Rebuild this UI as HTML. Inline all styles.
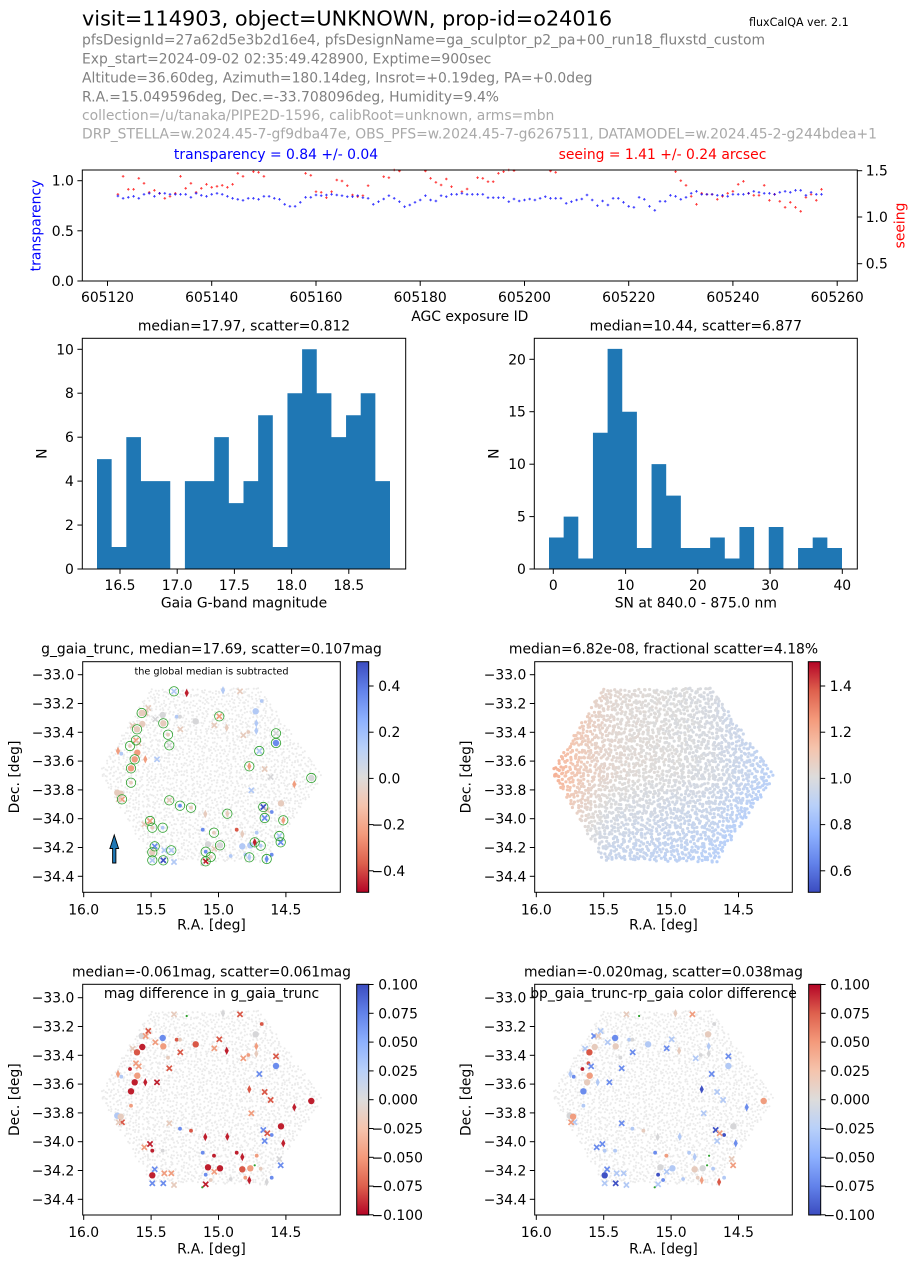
<!DOCTYPE html>
<html><head><meta charset="utf-8">
<style>
html,body{margin:0;padding:0;background:#fff;}
svg{display:block;}
text{font-family:"DejaVu Sans","Liberation Sans",sans-serif;font-size:13.9px;fill:#000;}
.g1 text{fill:#808080}
.g2 text{fill:#a9a9a9}
.e{text-anchor:end}
.m{text-anchor:middle}
</style></head><body>
<svg id="s" width="918" height="1268" viewBox="0 0 918 1268" xmlns="http://www.w3.org/2000/svg">
<defs>
<linearGradient id="cwUp" x1="0" y1="0" x2="0" y2="1">
<stop offset="0" stop-color="rgb(180,4,38)"/><stop offset="0.125" stop-color="rgb(222,96,77)"/><stop offset="0.25" stop-color="rgb(244,154,123)"/><stop offset="0.375" stop-color="rgb(245,196,173)"/><stop offset="0.5" stop-color="rgb(221,220,219)"/><stop offset="0.625" stop-color="rgb(184,208,249)"/><stop offset="0.75" stop-color="rgb(141,176,254)"/><stop offset="0.875" stop-color="rgb(98,130,234)"/><stop offset="1" stop-color="rgb(59,76,192)"/>
</linearGradient>
<linearGradient id="cwDn" x1="0" y1="0" x2="0" y2="1">
<stop offset="0" stop-color="rgb(59,76,192)"/><stop offset="0.125" stop-color="rgb(98,130,234)"/><stop offset="0.25" stop-color="rgb(141,176,254)"/><stop offset="0.375" stop-color="rgb(184,208,249)"/><stop offset="0.5" stop-color="rgb(221,220,219)"/><stop offset="0.625" stop-color="rgb(245,196,173)"/><stop offset="0.75" stop-color="rgb(244,154,123)"/><stop offset="0.875" stop-color="rgb(222,96,77)"/><stop offset="1" stop-color="rgb(180,4,38)"/>
</linearGradient>
</defs>
<rect width="918" height="1268" fill="#fff"/>

<!-- header -->
<text x="82" y="25.5" style="font-size:20.8px">visit=114903, object=UNKNOWN, prop-id=o24016</text>
<text x="749" y="26" style="font-size:11.1px">fluxCalQA ver. 2.1</text>
<g class="g1">
<text x="82" y="44.5">pfsDesignId=27a62d5e3b2d16e4, pfsDesignName=ga_sculptor_p2_pa+00_run18_fluxstd_custom</text>
<text x="82" y="63.5">Exp_start=2024-09-02 02:35:49.428900, Exptime=900sec</text>
<text x="82" y="82.5">Altitude=36.60deg, Azimuth=180.14deg, Insrot=+0.19deg, PA=+0.0deg</text>
<text x="82" y="101.3">R.A.=15.049596deg, Dec.=-33.708096deg, Humidity=9.4%</text>
</g>
<g class="g2">
<text x="82" y="119.9">collection=/u/tanaka/PIPE2D-1596, calibRoot=unknown, arms=mbn</text>
<text x="82" y="138.7">DRP_STELLA=w.2024.45-7-gf9dba47e, OBS_PFS=w.2024.45-7-g6267511, DATAMODEL=w.2024.45-2-g244bdea+1</text>
</g>
<text x="276" y="159" class="m" style="fill:#0000ff">transparency = 0.84 +/- 0.04</text>
<text x="662.5" y="159" class="m" style="fill:#ff0000">seeing = 1.41 +/- 0.24 arcsec</text>

<!-- transparency plot -->
<g id="tpts"></g>
<rect x="82.3" y="170" width="775" height="111" fill="none" stroke="#000" stroke-width="1"/>
<g stroke="#000" stroke-width="1">
<line x1="77.4" y1="281" x2="82.3" y2="281"/><line x1="77.4" y1="230.8" x2="82.3" y2="230.8"/><line x1="77.4" y1="180.7" x2="82.3" y2="180.7"/>
<line x1="857.3" y1="170.7" x2="862.2" y2="170.7"/><line x1="857.3" y1="217" x2="862.2" y2="217"/><line x1="857.3" y1="263.7" x2="862.2" y2="263.7"/>
<line x1="107.5" y1="281" x2="107.5" y2="285.9"/><line x1="211.7" y1="281" x2="211.7" y2="285.9"/><line x1="316" y1="281" x2="316" y2="285.9"/><line x1="420.2" y1="281" x2="420.2" y2="285.9"/><line x1="524.5" y1="281" x2="524.5" y2="285.9"/><line x1="628.7" y1="281" x2="628.7" y2="285.9"/><line x1="732.9" y1="281" x2="732.9" y2="285.9"/><line x1="837.2" y1="281" x2="837.2" y2="285.9"/>
</g>
<text x="73.9" y="286" class="e">0.0</text><text x="73.9" y="235.8" class="e">0.5</text><text x="73.9" y="185.7" class="e">1.0</text>
<text x="865.7" y="175.7">1.5</text><text x="865.7" y="222">1.0</text><text x="865.7" y="268.7">0.5</text>
<text x="107.5" y="302" class="m">605120</text><text x="211.7" y="302" class="m">605140</text><text x="316" y="302" class="m">605160</text><text x="420.2" y="302" class="m">605180</text><text x="524.5" y="302" class="m">605200</text><text x="628.7" y="302" class="m">605220</text><text x="732.9" y="302" class="m">605240</text><text x="837.2" y="302" class="m">605260</text>
<text x="469.8" y="321" class="m">AGC exposure ID</text>
<text transform="translate(40.3,225.5) rotate(-90)" class="m" style="fill:#0000ff">transparency</text>
<text transform="translate(904.3,225.5) rotate(-90)" class="m" style="fill:#ff0000">seeing</text>

<!-- histogram 1 -->
<path fill="#1f77b4" d="M97,569 V459.15 H111.65 V547.03 H126.3 V437.18 H140.95 V481.12 H170.25 V569 H184.9 V481.12 H214.2 V437.18 H228.85 V503.09 H243.5 V481.12 H258.15 V415.21 H272.8 V547.03 H287.45 V393.24 H302.1 V349.3 H316.75 V393.24 H331.4 V437.18 H346.05 V415.21 H360.7 V393.24 H375.35 V481.12 H390 V569 Z"/>
<rect x="82.3" y="338.3" width="323.4" height="230.7" fill="none" stroke="#000" stroke-width="1"/>
<g stroke="#000" stroke-width="1">
<line x1="77.4" y1="569" x2="82.3" y2="569"/><line x1="77.4" y1="525.06" x2="82.3" y2="525.06"/><line x1="77.4" y1="481.1" x2="82.3" y2="481.1"/><line x1="77.4" y1="437.2" x2="82.3" y2="437.2"/><line x1="77.4" y1="393.2" x2="82.3" y2="393.2"/><line x1="77.4" y1="349.3" x2="82.3" y2="349.3"/>
<line x1="120" y1="569" x2="120" y2="573.9"/><line x1="177.2" y1="569" x2="177.2" y2="573.9"/><line x1="234.4" y1="569" x2="234.4" y2="573.9"/><line x1="291.6" y1="569" x2="291.6" y2="573.9"/><line x1="348.8" y1="569" x2="348.8" y2="573.9"/>
</g>
<text x="73.9" y="574" class="e">0</text><text x="73.9" y="530.06" class="e">2</text><text x="73.9" y="486.1" class="e">4</text><text x="73.9" y="442.2" class="e">6</text><text x="73.9" y="398.2" class="e">8</text><text x="73.9" y="354.3" class="e">10</text>
<text x="120" y="590" class="m">16.5</text><text x="177.2" y="590" class="m">17.0</text><text x="234.4" y="590" class="m">17.5</text><text x="291.6" y="590" class="m">18.0</text><text x="348.8" y="590" class="m">18.5</text>
<text x="244" y="330.3" class="m">median=17.97, scatter=0.812</text>
<text x="244" y="607.5" class="m">Gaia G-band magnitude</text>
<text transform="translate(46.7,453.65) rotate(-90)" class="m">N</text>

<!-- histogram 2 -->
<path fill="#1f77b4" d="M549,569 V537.545 H563.65 V516.575 H578.3 V558.515 H592.95 V432.695 H607.6 V348.815 H622.25 V411.725 H636.9 V548.03 H651.55 V464.15 H666.2 V495.605 H680.85 V548.03 H710.15 V537.545 H724.8 V558.515 H739.45 V527.06 H754.1 V569 H768.75 V527.06 H783.4 V569 H798.05 V548.03 H812.7 V537.545 H827.35 V548.03 H842 V569 Z"/>
<rect x="534.3" y="338.3" width="323" height="230.7" fill="none" stroke="#000" stroke-width="1"/>
<g stroke="#000" stroke-width="1">
<line x1="529.4" y1="569" x2="534.3" y2="569"/><line x1="529.4" y1="516.6" x2="534.3" y2="516.6"/><line x1="529.4" y1="464.2" x2="534.3" y2="464.2"/><line x1="529.4" y1="411.7" x2="534.3" y2="411.7"/><line x1="529.4" y1="359.3" x2="534.3" y2="359.3"/>
<line x1="553.3" y1="569" x2="553.3" y2="573.9"/><line x1="625.6" y1="569" x2="625.6" y2="573.9"/><line x1="697.8" y1="569" x2="697.8" y2="573.9"/><line x1="770.1" y1="569" x2="770.1" y2="573.9"/><line x1="842.3" y1="569" x2="842.3" y2="573.9"/>
</g>
<text x="525.9" y="574" class="e">0</text><text x="525.9" y="521.6" class="e">5</text><text x="525.9" y="469.2" class="e">10</text><text x="525.9" y="416.7" class="e">15</text><text x="525.9" y="364.3" class="e">20</text>
<text x="553.3" y="590" class="m">0</text><text x="625.6" y="590" class="m">10</text><text x="697.8" y="590" class="m">20</text><text x="770.1" y="590" class="m">30</text><text x="842.3" y="590" class="m">40</text>
<text x="695.8" y="330.3" class="m">median=10.44, scatter=6.877</text>
<text x="695.8" y="607.5" class="m">SN at 840.0 - 875.0 nm</text>
<text transform="translate(498.3,453.65) rotate(-90)" class="m">N</text>

<!-- scatter groups -->
<g id="p3"></g><g id="p4"></g><g id="p5"></g><g id="p6"></g>

<!-- panel 3 frame -->
<path d="M112.6,863 L115.9,863 L115.9,848.5 L118.6,848.5 L114.25,835 L109.9,848.5 L112.6,848.5 Z" fill="#1f77b4" stroke="#000" stroke-width="0.9"/>
<rect x="82.7" y="661.7" width="257.6" height="230.6" fill="none" stroke="#000" stroke-width="1"/>
<text x="211.5" y="674.5" class="m" style="font-size:9.7px">the global median is subtracted</text>
<text x="211.5" y="653.7" class="m">g_gaia_trunc, median=17.69, scatter=0.107mag</text>
<rect x="356.7" y="661.7" width="12" height="230.6" fill="url(#cwDn)" stroke="#000" stroke-width="1"/>
<g stroke="#000" stroke-width="1">
<line x1="77.8" y1="674.7" x2="82.7" y2="674.7"/><line x1="77.8" y1="703.5" x2="82.7" y2="703.5"/><line x1="77.8" y1="732.3" x2="82.7" y2="732.3"/><line x1="77.8" y1="761.1" x2="82.7" y2="761.1"/><line x1="77.8" y1="789.9" x2="82.7" y2="789.9"/><line x1="77.8" y1="818.7" x2="82.7" y2="818.7"/><line x1="77.8" y1="847.5" x2="82.7" y2="847.5"/><line x1="77.8" y1="876.3" x2="82.7" y2="876.3"/>
<line x1="83.7" y1="892.3" x2="83.7" y2="897.2"/><line x1="151.1" y1="892.3" x2="151.1" y2="897.2"/><line x1="218.5" y1="892.3" x2="218.5" y2="897.2"/><line x1="285.9" y1="892.3" x2="285.9" y2="897.2"/>
<line x1="368.7" y1="686" x2="373.6" y2="686"/><line x1="368.7" y1="732.2" x2="373.6" y2="732.2"/><line x1="368.7" y1="778.4" x2="373.6" y2="778.4"/><line x1="368.7" y1="824.6" x2="373.6" y2="824.6"/><line x1="368.7" y1="870.8" x2="373.6" y2="870.8"/>
</g>
<text x="74.3" y="679.7" class="e">−33.0</text><text x="74.3" y="708.5" class="e">−33.2</text><text x="74.3" y="737.3" class="e">−33.4</text><text x="74.3" y="766.1" class="e">−33.6</text><text x="74.3" y="794.9" class="e">−33.8</text><text x="74.3" y="823.7" class="e">−34.0</text><text x="74.3" y="852.5" class="e">−34.2</text><text x="74.3" y="881.3" class="e">−34.4</text>
<text x="83.7" y="914.3" class="m">16.0</text><text x="151.1" y="914.3" class="m">15.5</text><text x="218.5" y="914.3" class="m">15.0</text><text x="285.9" y="914.3" class="m">14.5</text>
<text x="211.5" y="929.7" class="m">R.A. [deg]</text>
<text transform="translate(19,777) rotate(-90)" class="m">Dec. [deg]</text>
<text x="378.2" y="691">0.4</text><text x="378.2" y="737.2">0.2</text><text x="378.2" y="783.4">0.0</text><text x="371.5" y="829.6">−0.2</text><text x="371.5" y="875.8">−0.4</text>

<!-- panel 4 frame -->
<rect x="534.7" y="661.7" width="257.6" height="230.6" fill="none" stroke="#000" stroke-width="1"/>
<text x="663.5" y="653.7" class="m">median=6.82e-08, fractional scatter=4.18%</text>
<rect x="808.3" y="661.7" width="12" height="230.6" fill="url(#cwUp)" stroke="#000" stroke-width="1"/>
<g stroke="#000" stroke-width="1">
<line x1="529.8" y1="674.7" x2="534.7" y2="674.7"/><line x1="529.8" y1="703.5" x2="534.7" y2="703.5"/><line x1="529.8" y1="732.3" x2="534.7" y2="732.3"/><line x1="529.8" y1="761.1" x2="534.7" y2="761.1"/><line x1="529.8" y1="789.9" x2="534.7" y2="789.9"/><line x1="529.8" y1="818.7" x2="534.7" y2="818.7"/><line x1="529.8" y1="847.5" x2="534.7" y2="847.5"/><line x1="529.8" y1="876.3" x2="534.7" y2="876.3"/>
<line x1="536.3" y1="892.3" x2="536.3" y2="897.2"/><line x1="603.7" y1="892.3" x2="603.7" y2="897.2"/><line x1="671.1" y1="892.3" x2="671.1" y2="897.2"/><line x1="738.5" y1="892.3" x2="738.5" y2="897.2"/>
<line x1="820.3" y1="686" x2="825.2" y2="686"/><line x1="820.3" y1="732.2" x2="825.2" y2="732.2"/><line x1="820.3" y1="778.4" x2="825.2" y2="778.4"/><line x1="820.3" y1="824.6" x2="825.2" y2="824.6"/><line x1="820.3" y1="870.8" x2="825.2" y2="870.8"/>
</g>
<text x="526.3" y="679.7" class="e">−33.0</text><text x="526.3" y="708.5" class="e">−33.2</text><text x="526.3" y="737.3" class="e">−33.4</text><text x="526.3" y="766.1" class="e">−33.6</text><text x="526.3" y="794.9" class="e">−33.8</text><text x="526.3" y="823.7" class="e">−34.0</text><text x="526.3" y="852.5" class="e">−34.2</text><text x="526.3" y="881.3" class="e">−34.4</text>
<text x="536.3" y="914.3" class="m">16.0</text><text x="603.7" y="914.3" class="m">15.5</text><text x="671.1" y="914.3" class="m">15.0</text><text x="738.5" y="914.3" class="m">14.5</text>
<text x="663.5" y="929.7" class="m">R.A. [deg]</text>
<text transform="translate(470.5,777) rotate(-90)" class="m">Dec. [deg]</text>
<text x="829.8" y="691">1.4</text><text x="829.8" y="737.2">1.2</text><text x="829.8" y="783.4">1.0</text><text x="829.8" y="829.6">0.8</text><text x="829.8" y="875.8">0.6</text>

<!-- panel 5 frame -->
<rect x="82.7" y="984.3" width="257.6" height="230.7" fill="none" stroke="#000" stroke-width="1"/>
<text x="211.5" y="976.3" class="m">median=-0.061mag, scatter=0.061mag</text>
<text x="211.5" y="998" class="m">mag difference in g_gaia_trunc</text>
<rect x="356.7" y="984.3" width="12" height="230.7" fill="url(#cwDn)" stroke="#000" stroke-width="1"/>
<g stroke="#000" stroke-width="1">
<line x1="77.8" y1="997.7" x2="82.7" y2="997.7"/><line x1="77.8" y1="1026.5" x2="82.7" y2="1026.5"/><line x1="77.8" y1="1055.3" x2="82.7" y2="1055.3"/><line x1="77.8" y1="1084.1" x2="82.7" y2="1084.1"/><line x1="77.8" y1="1112.9" x2="82.7" y2="1112.9"/><line x1="77.8" y1="1141.7" x2="82.7" y2="1141.7"/><line x1="77.8" y1="1170.5" x2="82.7" y2="1170.5"/><line x1="77.8" y1="1199.3" x2="82.7" y2="1199.3"/>
<line x1="83.7" y1="1215" x2="83.7" y2="1219.9"/><line x1="151.1" y1="1215" x2="151.1" y2="1219.9"/><line x1="218.5" y1="1215" x2="218.5" y2="1219.9"/><line x1="285.9" y1="1215" x2="285.9" y2="1219.9"/>
<line x1="368.7" y1="984.5" x2="373.6" y2="984.5"/><line x1="368.7" y1="1013.3" x2="373.6" y2="1013.3"/><line x1="368.7" y1="1042.1" x2="373.6" y2="1042.1"/><line x1="368.7" y1="1070.9" x2="373.6" y2="1070.9"/><line x1="368.7" y1="1099.7" x2="373.6" y2="1099.7"/><line x1="368.7" y1="1128.5" x2="373.6" y2="1128.5"/><line x1="368.7" y1="1157.3" x2="373.6" y2="1157.3"/><line x1="368.7" y1="1186.1" x2="373.6" y2="1186.1"/><line x1="368.7" y1="1214.8" x2="373.6" y2="1214.8"/>
</g>
<text x="74.3" y="1002.7" class="e">−33.0</text><text x="74.3" y="1031.5" class="e">−33.2</text><text x="74.3" y="1060.3" class="e">−33.4</text><text x="74.3" y="1089.1" class="e">−33.6</text><text x="74.3" y="1117.9" class="e">−33.8</text><text x="74.3" y="1146.7" class="e">−34.0</text><text x="74.3" y="1175.5" class="e">−34.2</text><text x="74.3" y="1204.3" class="e">−34.4</text>
<text x="83.7" y="1237" class="m">16.0</text><text x="151.1" y="1237" class="m">15.5</text><text x="218.5" y="1237" class="m">15.0</text><text x="285.9" y="1237" class="m">14.5</text>
<text x="211.5" y="1253.7" class="m">R.A. [deg]</text>
<text transform="translate(19,1099.65) rotate(-90)" class="m">Dec. [deg]</text>
<text x="378.2" y="989.5">0.100</text><text x="378.2" y="1018.3">0.075</text><text x="378.2" y="1047.1">0.050</text><text x="378.2" y="1075.9">0.025</text><text x="378.2" y="1104.7">0.000</text><text x="371.5" y="1133.5">−0.025</text><text x="371.5" y="1162.3">−0.050</text><text x="371.5" y="1191.1">−0.075</text><text x="371.5" y="1219.8">−0.100</text>

<!-- panel 6 frame -->
<rect x="534.7" y="984.3" width="257.6" height="230.7" fill="none" stroke="#000" stroke-width="1"/>
<text x="663.5" y="976.3" class="m">median=-0.020mag, scatter=0.038mag</text>
<text x="663.5" y="998" class="m">bp_gaia_trunc-rp_gaia color difference</text>
<rect x="808.7" y="984.3" width="12" height="230.7" fill="url(#cwUp)" stroke="#000" stroke-width="1"/>
<g stroke="#000" stroke-width="1">
<line x1="529.8" y1="997.7" x2="534.7" y2="997.7"/><line x1="529.8" y1="1026.5" x2="534.7" y2="1026.5"/><line x1="529.8" y1="1055.3" x2="534.7" y2="1055.3"/><line x1="529.8" y1="1084.1" x2="534.7" y2="1084.1"/><line x1="529.8" y1="1112.9" x2="534.7" y2="1112.9"/><line x1="529.8" y1="1141.7" x2="534.7" y2="1141.7"/><line x1="529.8" y1="1170.5" x2="534.7" y2="1170.5"/><line x1="529.8" y1="1199.3" x2="534.7" y2="1199.3"/>
<line x1="536.3" y1="1215" x2="536.3" y2="1219.9"/><line x1="603.7" y1="1215" x2="603.7" y2="1219.9"/><line x1="671.1" y1="1215" x2="671.1" y2="1219.9"/><line x1="738.5" y1="1215" x2="738.5" y2="1219.9"/>
<line x1="820.7" y1="984.5" x2="825.6" y2="984.5"/><line x1="820.7" y1="1013.3" x2="825.6" y2="1013.3"/><line x1="820.7" y1="1042.1" x2="825.6" y2="1042.1"/><line x1="820.7" y1="1070.9" x2="825.6" y2="1070.9"/><line x1="820.7" y1="1099.7" x2="825.6" y2="1099.7"/><line x1="820.7" y1="1128.5" x2="825.6" y2="1128.5"/><line x1="820.7" y1="1157.3" x2="825.6" y2="1157.3"/><line x1="820.7" y1="1186.1" x2="825.6" y2="1186.1"/><line x1="820.7" y1="1214.8" x2="825.6" y2="1214.8"/>
</g>
<text x="526.3" y="1002.7" class="e">−33.0</text><text x="526.3" y="1031.5" class="e">−33.2</text><text x="526.3" y="1060.3" class="e">−33.4</text><text x="526.3" y="1089.1" class="e">−33.6</text><text x="526.3" y="1117.9" class="e">−33.8</text><text x="526.3" y="1146.7" class="e">−34.0</text><text x="526.3" y="1175.5" class="e">−34.2</text><text x="526.3" y="1204.3" class="e">−34.4</text>
<text x="536.3" y="1237" class="m">16.0</text><text x="603.7" y="1237" class="m">15.5</text><text x="671.1" y="1237" class="m">15.0</text><text x="738.5" y="1237" class="m">14.5</text>
<text x="663.5" y="1253.7" class="m">R.A. [deg]</text>
<text transform="translate(470.5,1099.65) rotate(-90)" class="m">Dec. [deg]</text>
<text x="830.2" y="989.5">0.100</text><text x="830.2" y="1018.3">0.075</text><text x="830.2" y="1047.1">0.050</text><text x="830.2" y="1075.9">0.025</text><text x="830.2" y="1104.7">0.000</text><text x="823.5" y="1133.5">−0.025</text><text x="823.5" y="1162.3">−0.050</text><text x="823.5" y="1191.1">−0.075</text><text x="823.5" y="1219.8">−0.100</text>
</svg>
<script>
(function(){
function mul(a){return function(){a|=0;a=a+0x6D2B79F5|0;var t=Math.imul(a^a>>>15,1|a);t=t+Math.imul(t^t>>>7,61|t)^t;return((t^t>>>14)>>>0)/4294967296;};}
var A=[[59,76,192],[98,130,234],[141,176,254],[184,208,249],[221,220,219],[245,196,173],[244,154,123],[222,96,77],[180,4,38]];
function cw(t){t=Math.max(0,Math.min(1,t));var f=t*8,i=Math.min(7,Math.floor(f)),u=f-i;var c=A[i].map(function(v,k){return Math.round(v+(A[i+1][k]-v)*u);});return 'rgb('+c.join(',')+')';}
function f(v){return v.toFixed(1);}
/* transparency plot */
var tp='';
function xid(id){return 107.5+(id-605120)*5.212;}
function plus(x,y,c){tp+='<path d="M'+f(x-1.3)+','+f(y)+'h2.6M'+f(x)+','+f(y-1.3)+'v2.6" stroke="'+c+'" stroke-width="0.9" stroke-opacity="0.8"/>';}
var b1=[108,115,112,109,115,103,100,109,100,100,103,103,103,103,112,100,106,109,103,100,103,109,115,118,121,115,115,118,109,109,115,118,133,139,139,127,112,112];
var b2=[150,152,150,148,150,152,155,155,152,158,160,178,170,162,152,160,170,185,180,172,165,152,165,168,152,155,148,148,145,148,148,148,148,158,158,158,158,170,162,168,165,162,165,160,155,160,160,160,175,170,165,162,150,165,182,168,180,160];
var b3=[115,127,139,142,112,118,139,151,124,124,106,109,118,112,100,94,103,103,103,106,106,109,103,103,103,100,94,97,100,100,103,97,94,97,91,91,106,97,103,103];
var r1={122:103,123:49,124:88,125:88,126:55,127:70,128:97,129:91,130:100,131:115,132:109,133:100,134:49,135:85,136:70,137:97,138:85,139:73,140:82,141:79,142:76,143:82,144:73,145:40,146:49,148:35,149:37,150:49,158:40,159:46};
var r2={160:140,161:142,162:158,163:140,164:105,165:108,166:122,167:150,168:155,169:152,170:122,173:95,174:98,175:75,176:78,181:78,182:100,183:112,184:120,185:102,186:125,188:140,189:132,191:98,192:100,193:110,194:110,195:85,196:80,197:75,198:77,205:78,206:82};
var r3={229:35,230:62,231:76,232:109,233:133,234:100,235:103,236:103,237:118,238:109,239:100,240:94,241:73,242:64,243:100,244:106,245:106,246:76,247:121,248:103,249:124,250:142,251:127,252:142,253:154,254:112,255:103,256:121,257:88};
var k;
for(k in r1)plus(xid(605000+ +k),r1[k]/3+160,'#ff0000');
for(k in r2)plus(xid(605000+ +k),r2[k]/3+145,'#ff0000');
for(k in r3)plus(xid(605000+ +k),r3[k]/3+160,'#ff0000');
b1.forEach(function(v,i){plus(xid(605122+i),v/3+160,'#0000ff');});
b2.forEach(function(v,i){plus(xid(605160+i),v/3+145,'#0000ff');});
b3.forEach(function(v,i){plus(xid(605218+i),v/3+160,'#0000ff');});
document.getElementById('tpts').innerHTML=tp;

/* hexagon fibre positions */
var H=[[16.3,110],[68.6,26.5],[177,26.5],[240.3,115],[182,200.5],[68.3,198.5]];
function inside(x,y){var c=false;for(var i=0,j=H.length-1;i<H.length;j=i++){var xi=H[i][0],yi=H[i][1],xj=H[j][0],yj=H[j][1];if(((yi>y)!=(yj>y))&&(x<(xj-xi)*(y-yi)/(yj-yi)+xi))c=!c;}return c;}
var rnd=mul(9871);var pts=[];var d=3.45;
for(var y=20;y<210;y+=d)for(var x=10;x<250;x+=d){var px=x+rnd()*d,py=y+rnd()*d;if(inside(px,py))pts.push([px,py]);}
var s4='',bg3='',bg5='',bg6='';
pts.forEach(function(p){
 var xn=(p[0]-128.3)/112,yn=(p[1]-113)/87;
 var e=Math.max(0,-xn-0.35)/0.65;
 var v=1.0-0.05*xn-0.1*Math.max(0,yn)-0.12*Math.max(0,xn-0.45)+0.15*e*e+(rnd()-0.5)*0.02;
 s4+='<circle cx="'+f(534.7+p[0])+'" cy="'+f(661.7+p[1])+'" r="1.6" fill="'+cw(v-0.5)+'"/>';
 bg3+='<circle cx="'+f(82.7+p[0])+'" cy="'+f(661.7+p[1])+'" r="1.05"/>';
 bg5+='<circle cx="'+f(82.7+p[0])+'" cy="'+f(984.3+p[1])+'" r="1.05"/>';
 bg6+='<circle cx="'+f(534.7+p[0])+'" cy="'+f(984.3+p[1])+'" r="1.05"/>';
});
/* flux standard stars */
var C={R:'#be1e2d',r:'#d95847',s:'#f09d7f',p:'#e6cbbd',g:'#d6d6d8',l:'#b2c9f5',b:'#6b8ced',B:'#3f51c4',G:'#2ca02c'};
var S=[
[522,178,'xxx','lpp',1],[560,183,'vGG','RGG',0],[669,175,'vvv','lgp',0],[720,178,'xxx','prs',0],[785,207,'ddd','lrg',0],
[445,228,'xxx','prl',0],[425,243,'ccx','pgb',1],[437,243,'xxx','psp',0],[488,249,'ccc','gbb',0],[530,254,'ddd','lrl',0],
[540,254,'ddd','gpg',0],[466,262,'xxx','gsl',0],[587,268,'ccc','grl',0],[658,253,'xxx','srl',1],[767,238,'ccc','lgp',0],
[490,274,'ccc','psp',1],[427,276,'ccc','pRp',0],[398,281,'xxx','ppl',0],[643,280,'xxx','psb',0],[680,287,'vvv','pRp',0],
[769,274,'vvv','lsl',0],[769,296,'vvv','lpg',0],[541,292,'xxx','prb',0],[411,292,'ccc','prr',1],[504,308,'ddd','ppg',1],
[745,300,'ddd','psg',0],[730,310,'xxx','psl',0],[828,304,'xxx','grb',1],[390,342,'ddd','pRR',1],[408,325,'xxd','ssr',1],
[416,334,'xxx','psb',0],[508,340,'xxx','grb',1],[828,333,'ccc','bbl',1],[354,357,'vvv','ssl',0],[364,365,'ddd','llb',0],
[412,362,'ccc','sss',0],[778,357,'xxx','lbb',1],[404,382,'ccc','sRp',1],[436,382,'vvv','sRl',0],[471,382,'xxx','lRb',0],
[393,409,'ccc','sRb',1],[748,403,'vvv','srB',1],[794,411,'xxx','prl',0],[812,435,'xxx','grl',0],[934,438,'ccc','gRs',1],
[393,452,'ddd','psl',1],[883,457,'vvv','sRb',0],[352,482,'ccc','plg',0],[362,485,'ccc','pps',0],[366,502,'xxx','srl',1],
[356,502,'xxx','pps',0],[754,475,'xxx','lsl',0],[508,505,'xxx','ppb',1],[540,521,'ddd','bbl',1],[573,527,'ddd','prp',1],
[843,514,'ccc','pRg',0],[790,525,'xxx','BbB',1],[815,540,'ddd','bbB',0],[802,535,'xxx','prs',0],[616,546,'vvv','pRg',0],
[682,545,'vvv','pRl',1],[794,558,'xxx','bbl',1],[850,565,'vvv','sRb',1],[450,567,'xxx','sRb',1],[433,577,'xxx','psb',0],
[457,587,'ddd','pRl',1],[488,587,'ddd','lgl',1],[608,593,'ddd','bbb',0],[642,602,'ddd','pRs',1],[710,593,'ddd','rRl',0],
[727,606,'vvv','pRl',0],[770,602,'ddG','lsG',0],[838,612,'xxx','lgp',1],[464,643,'xxx','bbb',1],[624,637,'ccc','gRg',0],
[660,640,'ccc','gRl',1],[727,643,'ccc','lrp',0],[751,640,'ccc','lsg',0],[764,631,'vGG','RGG',1],[782,641,'ddd','lpl',1],
[842,631,'xxx','bbs',1],[457,661,'ccc','pRB',1],[493,655,'xxx','lsl',0],[514,655,'xxx','lsl',1],[617,659,'ddd','bbB',1],
[643,650,'xxx','psl',0],[632,675,'ddd','ppb',1],[692,672,'ddd','lgl',0],[736,668,'ddd','lsp',0],[748,676,'vvv','lRs',1],
[800,681,'vvv','bgr',1],[815,668,'ddd','bbl',0],[457,685,'xxx','lbl',1],[490,685,'xxx','BbB',1],[522,690,'xxx','lpl',0],
[617,688,'xxx','RRl',1],[607,697,'dGG','gGG',0]];
function mk(t,x,y,c){
 if(t=='c')return '<circle cx="'+f(x)+'" cy="'+f(y)+'" r="3.2" fill="'+c+'"/>';
 if(t=='d')return '<circle cx="'+f(x)+'" cy="'+f(y)+'" r="1.9" fill="'+c+'"/>';
 if(t=='G')return '<circle cx="'+f(x)+'" cy="'+f(y)+'" r="1.1" fill="'+c+'"/>';
 if(t=='x')return '<path d="M'+f(x-2.6)+','+f(y-2.6)+'l5.2,5.2M'+f(x-2.6)+','+f(y+2.6)+'l5.2,-5.2" stroke="'+c+'" stroke-width="1.7" fill="none"/>';
 return '<path d="M'+f(x)+','+f(y-4.2)+'L'+f(x+2.1)+','+f(y)+'L'+f(x)+','+f(y+4.2)+'L'+f(x-2.1)+','+f(y)+'Z" fill="'+c+'"/>';
}
var m3='',m5='',m6='',rings='';
S.forEach(function(e){
 var x=e[0]/3,y=e[1]/3;
 m3+=mk(e[2][0],x,y+632,C[e[3][0]]);
 m5+=mk(e[2][1],x,y+955,C[e[3][1]]);
 m6+=mk(e[2][2],x+452.4,y+955,C[e[3][2]]);
 if(e[4])rings+='<circle cx="'+f(x)+'" cy="'+f(y+632)+'" r="4.7" fill="none" stroke="#2ca02c" stroke-width="0.8"/>';
});
document.getElementById('p3').innerHTML='<g fill="#ebebeb">'+bg3+'</g>'+m3+rings;
document.getElementById('p4').innerHTML=s4;
document.getElementById('p5').innerHTML='<g fill="#ebebeb">'+bg5+'</g>'+m5;
document.getElementById('p6').innerHTML='<g fill="#ebebeb">'+bg6+'</g>'+m6;
})();
</script>
</body></html>
